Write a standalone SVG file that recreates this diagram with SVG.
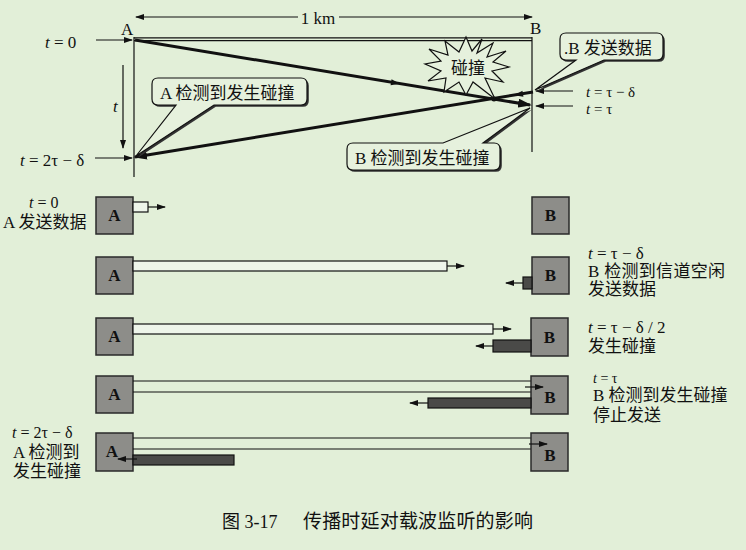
<svg xmlns="http://www.w3.org/2000/svg" width="746" height="550" viewBox="0 0 746 550">
<defs>
<style>
.bg{fill:#e2efd8}
.t{font-family:"Liberation Serif","Noto Sans CJK SC",serif;fill:#111}
.s16{font-size:17px}
.s15{font-size:15px}
.s17{font-size:17px}
.i{font-style:italic}
.ln{stroke:#111;stroke-width:1.2;fill:none}
.thick{stroke:#111;stroke-width:3;fill:none}
.box{fill:#8d8d89;stroke:#2a2a2a;stroke-width:1.5}
.lbl{font-family:"Liberation Serif",serif;font-size:17px;font-weight:bold;fill:#111;text-anchor:middle}
.wbar{fill:#eef5ea;stroke:#111;stroke-width:1.2}
.dbar{fill:#4a4a48;stroke:#111;stroke-width:1.2}
.call{fill:#e6f1dd;stroke:#111;stroke-width:1.2}
.shadow{fill:#333}
</style>
<marker id="ar" markerUnits="userSpaceOnUse" markerWidth="9" markerHeight="6" refX="8" refY="3" orient="auto">
<path d="M0,0 L9,3 L0,6 z" fill="#111"/>
</marker>
<marker id="arb" markerUnits="userSpaceOnUse" markerWidth="14" markerHeight="9" refX="12" refY="4.5" orient="auto">
<path d="M0,0 L14,4.5 L0,9 z" fill="#111"/>
</marker>
</defs>
<rect class="bg" x="0" y="0" width="746" height="550"/>

<g id="top-frame">
<line class="ln" x1="134" y1="37.8" x2="532" y2="37.8" stroke-width="1.6"/>
<line class="ln" x1="134" y1="40.6" x2="532" y2="40.6" stroke-width="1.6"/>
<line class="ln" x1="134" y1="37" x2="134" y2="177"/>
<line class="ln" x1="532" y1="37" x2="532" y2="152"/>
<text class="t s16" x="121" y="35">A</text>
<text class="t s16" x="530" y="34">B</text>
</g>

<g id="distance">
<line class="ln" x1="298" y1="17" x2="136" y2="17" marker-end="url(#ar)"/>
<line class="ln" x1="339" y1="17" x2="532" y2="17" marker-end="url(#ar)"/>
<text class="t s16" x="318" y="24" text-anchor="middle">1 km</text>
</g>

<g id="time-labels">
<text class="t s16" x="45" y="48"><tspan class="i">t</tspan> = 0</text>
<text class="t s16" x="20" y="166"><tspan class="i">t</tspan> = 2τ − δ</text>
<text class="t s16 i" x="113" y="112">t</text>
<text class="t s15" x="586" y="97"><tspan class="i">t</tspan> = τ − δ</text>
<text class="t s15" x="586" y="114"><tspan class="i">t</tspan> = τ</text>
</g>

<g id="connectors">
<line class="ln" x1="96" y1="40" x2="132" y2="40" marker-end="url(#ar)"/>
<line class="ln" x1="95" y1="158" x2="132" y2="158" marker-end="url(#ar)"/>
<line class="ln" x1="123" y1="65" x2="123" y2="148" marker-end="url(#ar)"/>
<line class="ln" x1="573" y1="91" x2="536" y2="91" marker-end="url(#ar)"/>
<line class="ln" x1="573" y1="106" x2="536" y2="106" marker-end="url(#ar)"/>
<line class="thick" x1="135" y1="40" x2="530" y2="105" stroke-width="2.6" marker-end="url(#arb)"/>
<line class="thick" x1="533" y1="92" x2="135" y2="157" stroke-width="3.4" marker-end="url(#arb)"/>
<path d="M-5,-3 L4,0 L-5,3 z" fill="#111" transform="translate(396,83) rotate(9.3)"/>
<path d="M-5,-3 L4,0 L-5,3 z" fill="#111" transform="translate(518,94.5) rotate(170.7)"/>
<circle cx="494" cy="99" r="2.5" fill="#111"/>
</g>

<g id="collision-star">
<polygon class="call" points="482,39 477,53 493,43 487,57 506,51 493,62 509,67 492,71 503,82 485,78 495,99 473,82 466,95 459,82 444,92 446,78 428,81 441,71 425,64 441,61 429,49 448,55 445,41 459,52 466,37 472,51"/>
<text class="t s17" x="468" y="74" text-anchor="middle">碰撞</text>
</g>

<g id="callout-a-detect">
<path class="shadow" transform="translate(1.8,1.8)" d="M158,78 H301 Q307,78 307,84 V99 Q307,105 301,105 H214 L136,156 L176,105 H158 Q152,105 152,99 V84 Q152,78 158,78 Z"/>
<path class="call" d="M158,78 H301 Q307,78 307,84 V99 Q307,105 301,105 H214 L136,156 L176,105 H158 Q152,105 152,99 V84 Q152,78 158,78 Z"/>
<text class="t s17" x="160" y="99">A 检测到发生碰撞</text>
</g>

<g id="callout-b-send">
<path class="shadow" transform="translate(1.8,1.8)" d="M566,33 H657 Q663,33 663,39 V54 Q663,60 657,60 H604 L535,90 L576,60 H566 Q560,60 560,54 V39 Q560,33 566,33 Z"/>
<path class="call" d="M566,33 H657 Q663,33 663,39 V54 Q663,60 657,60 H604 L535,90 L576,60 H566 Q560,60 560,54 V39 Q560,33 566,33 Z"/>
<text class="t s17" x="564" y="54">.B 发送数据</text>
</g>

<g id="callout-b-detect">
<path class="shadow" transform="translate(1.8,1.8)" d="M353,143 H443 L530,108 L483,143 H494 Q500,143 500,149 V164 Q500,170 494,170 H353 Q347,170 347,164 V149 Q347,143 353,143 Z"/>
<path class="call" d="M353,143 H443 L530,108 L483,143 H494 Q500,143 500,149 V164 Q500,170 494,170 H353 Q347,170 347,164 V149 Q347,143 353,143 Z"/>
<text class="t s17" x="355" y="164">B 检测到发生碰撞</text>
</g>

<g id="row1">
<rect class="box" x="96" y="197" width="37" height="37"/>
<text class="lbl" x="114.5" y="221">A</text>
<rect class="wbar" x="133" y="202" width="15" height="10"/>
<line class="ln" x1="148" y1="207" x2="165" y2="207" marker-end="url(#ar)"/>
<rect class="box" x="532" y="197" width="37" height="37"/>
<text class="lbl" x="550.5" y="221">B</text>
<text class="t" font-size="16" x="29" y="208"><tspan class="i">t</tspan> = 0</text>
<text class="t s17" x="3" y="228">A 发送数据</text>
</g>

<g id="row2">
<rect class="box" x="96" y="257" width="37" height="37"/>
<text class="lbl" x="114.5" y="281">A</text>
<rect class="wbar" x="133" y="261" width="314" height="10"/>
<line class="ln" x1="447" y1="266" x2="464" y2="266" marker-end="url(#ar)"/>
<rect class="box" x="532" y="257" width="37" height="37"/>
<text class="lbl" x="550.5" y="281">B</text>
<rect class="dbar" x="523" y="277" width="9" height="12"/>
<line class="ln" x1="523" y1="283" x2="506" y2="283" marker-end="url(#ar)"/>
<text class="t s16" x="588" y="259"><tspan class="i">t</tspan> = τ − δ</text>
<text class="t s17" x="588" y="277" textLength="137" lengthAdjust="spacing">B 检测到信道空闲</text>
<text class="t s17" x="588" y="295">发送数据</text>
</g>

<g id="row3">
<rect class="box" x="96" y="318" width="37" height="37"/>
<text class="lbl" x="114.5" y="342">A</text>
<rect class="wbar" x="133" y="324" width="360" height="10"/>
<line class="ln" x1="493" y1="329" x2="511" y2="329" marker-end="url(#ar)"/>
<rect class="box" x="531" y="318" width="37" height="38"/>
<text class="lbl" x="549.5" y="343">B</text>
<rect class="dbar" x="493" y="340" width="38" height="12"/>
<line class="ln" x1="493" y1="346" x2="476" y2="346" marker-end="url(#ar)"/>
<text class="t s16" x="588" y="333"><tspan class="i">t</tspan> = τ − δ / 2</text>
<text class="t s17" x="588" y="352">发生碰撞</text>
</g>

<g id="row4">
<rect class="box" x="96" y="376" width="37" height="37"/>
<text class="lbl" x="114.5" y="400">A</text>
<line class="ln" x1="133" y1="381" x2="531" y2="381"/>
<line class="ln" x1="133" y1="392" x2="531" y2="392"/>
<rect class="box" x="531" y="376" width="37" height="38"/>
<text class="lbl" x="550" y="403">B</text>
<line class="ln" x1="525" y1="387" x2="543" y2="387" marker-end="url(#ar)"/>
<rect class="dbar" x="428" y="398" width="103" height="10"/>
<line class="ln" x1="428" y1="403" x2="410" y2="403" marker-end="url(#ar)"/>
<text class="t" font-size="14" x="593" y="383"><tspan class="i">t</tspan> = τ</text>
<text class="t s17" x="593" y="401">B 检测到发生碰撞</text>
<text class="t s17" x="593" y="421">停止发送</text>
</g>

<g id="row5">
<rect class="box" x="96" y="433" width="37" height="38"/>
<text class="lbl" x="112" y="457">A</text>
<line class="ln" x1="133" y1="438" x2="531" y2="438"/>
<line class="ln" x1="133" y1="449" x2="531" y2="449"/>
<rect class="box" x="531" y="433" width="37" height="38"/>
<text class="lbl" x="550" y="461">B</text>
<line class="ln" x1="529" y1="444" x2="547" y2="444" marker-end="url(#ar)"/>
<rect class="dbar" x="133" y="455" width="101" height="10"/>
<line class="ln" x1="137" y1="459" x2="118" y2="459" marker-end="url(#ar)"/>
<text class="t" font-size="16" x="12" y="438"><tspan class="i">t</tspan> = 2τ − δ</text>
<text class="t s17" x="13" y="458">A 检测到</text>
<text class="t s17" x="13" y="477">发生碰撞</text>
</g>

<g id="caption">
<text class="t" font-size="18" x="222" y="528">图 3-17</text>
<text class="t" font-size="19" x="303" y="528" textLength="230" lengthAdjust="spacing">传播时延对载波监听的影响</text>
</g>
</svg>
